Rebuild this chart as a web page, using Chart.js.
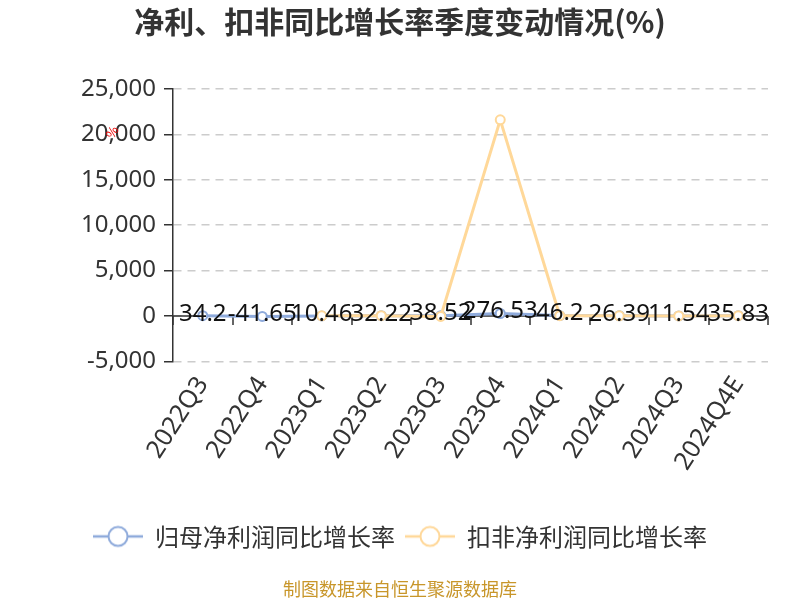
<!DOCTYPE html>
<html>
<head>
<meta charset="utf-8">
<script src="https://cdn.jsdelivr.net/npm/chart.js@4"></script>
<style>
  html, body { margin: 0; padding: 0; background: #fff; }
  #wrap { width: 800px; height: 600px; }
</style>
</head>
<body>
<div id="wrap"><canvas id="myChart" width="800" height="600"></canvas></div>
<script>
// Data
const quarters = ['2022Q3', '2022Q4', '2023Q1', '2023Q2', '2023Q3', '2023Q4', '2024Q1', '2024Q2', '2024Q3', '2024Q4E'];
const netProfitGrowth = [34.2, -41.65, 10.46, 32.22, 38.52, 276.53, 46.2, 26.39, 11.54, 35.83];
const deductedGrowth = [null, null, 18.3, 30.5, -52.7, 21600, 40.1, 24.8, 10.9, 35.0];
const seriesNames = ['归母净利润同比增长率', '扣非净利润同比增长率'];
const yTicks = [-5000, 0, 5000, 10000, 15000, 20000, 25000];

const FONT = '"Noto Sans CJK SC", "Noto Sans", sans-serif';
const NUM_FONT = '"Noto Sans", "Noto Sans CJK SC", sans-serif';
const BLUE = '#8eaadb';
const YELLOW = '#ffd899';

// legend symbol: short line with hollow circle
const makeSymbol = (color) => {
    const c = document.createElement('canvas');
    c.width = 50;
    c.height = 24;
    const g = c.getContext('2d');
    g.strokeStyle = color;
    g.lineWidth = 2.5;
    g.beginPath();
    g.moveTo(0, 12);
    g.lineTo(50, 12);
    g.stroke();
    g.beginPath();
    g.arc(25, 12, 9.5, 0, Math.PI * 2);
    g.fillStyle = '#fff';
    g.fill();
    g.lineWidth = 2;
    g.stroke();
    return c;
};

// zero axis line with category boundary ticks, drawn under the lines
const zeroAxis = {
    id: 'zeroAxis',
    beforeDatasetsDraw(chart) {
        const {ctx, scales: {x, y}} = chart;
        const y0 = y.getPixelForValue(0);
        const step = x.getPixelForValue(1) - x.getPixelForValue(0);
        ctx.save();
        ctx.strokeStyle = '#333';
        ctx.lineWidth = 1.5;
        ctx.beginPath();
        ctx.moveTo(x.left, y0);
        ctx.lineTo(x.right, y0);
        for (let i = 0; i <= quarters.length; i++) {
            const px = Math.round(x.getPixelForValue(0) - step / 2 + i * step);
            ctx.moveTo(px, y0);
            ctx.lineTo(px, y0 + 9);
        }
        ctx.stroke();
        ctx.restore();
    }
};

// value labels of the first series, plus the small red axis name
const valueLabels = {
    id: 'valueLabels',
    afterDatasetsDraw(chart) {
        const {ctx} = chart;
        const meta = chart.getDatasetMeta(0);
        ctx.save();
        ctx.font = '24px ' + NUM_FONT;
        ctx.fillStyle = '#111';
        ctx.textAlign = 'center';
        ctx.textBaseline = 'middle';
        meta.data.forEach((pt, i) => {
            ctx.fillText(String(netProfitGrowth[i]), pt.x, pt.y - 2);
        });
        ctx.translate(112, 132);
        ctx.rotate(-Math.PI / 3);
        ctx.font = '13px ' + FONT;
        ctx.fillStyle = '#e00';
        ctx.fillText('%', 0, 0);
        ctx.restore();
    }
};

const ctx = document.getElementById('myChart').getContext('2d');

const data = {
    labels: quarters,
    datasets: [{
        label: seriesNames[0],
        data: netProfitGrowth,
        borderColor: BLUE,
        backgroundColor: '#fff',
        borderWidth: 3,
        pointRadius: 4.5,
        pointBorderWidth: 2,
        pointBackgroundColor: '#fff',
        order: 1,
    }, {
        label: seriesNames[1],
        data: deductedGrowth,
        borderColor: YELLOW,
        backgroundColor: '#fff',
        borderWidth: 3,
        pointRadius: 4.5,
        pointBorderWidth: 2,
        pointBackgroundColor: '#fff',
        order: 0,
    }],
};

const options = {
    responsive: false,
    animation: false,
    layout: { padding: 0 },
    plugins: {
        title: {
            display: true,
            text: '净利、扣非同比增长率季度变动情况(%)',
            color: '#333',
            font: { family: FONT, size: 30, weight: 'bold' },
            padding: { top: 4, bottom: 49 },
        },
        subtitle: {
            display: true,
            position: 'bottom',
            text: '制图数据来自恒生聚源数据库',
            color: '#c8962a',
            font: { family: FONT, size: 18 },
            padding: { top: 20, bottom: 0 },
        },
        legend: {
            position: 'bottom',
            labels: {
                color: '#333',
                font: { family: FONT, size: 24 },
                usePointStyle: true,
                pointStyleWidth: 50,
                padding: 10,
                generateLabels: () => [
                    { text: seriesNames[0], pointStyle: makeSymbol(BLUE), fontColor: '#333', datasetIndex: 0, lineWidth: 0, strokeStyle: BLUE, fillStyle: '#fff' },
                    { text: seriesNames[1], pointStyle: makeSymbol(YELLOW), fontColor: '#333', datasetIndex: 1, lineWidth: 0, strokeStyle: YELLOW, fillStyle: '#fff' },
                ],
            },
        },
        tooltip: { enabled: false },
    },
    scales: {
        x: {
            offset: true,
            grid: { display: false },
            border: { display: false },
            ticks: {
                color: '#333',
                font: { family: NUM_FONT, size: 25 },
                minRotation: 57,
                maxRotation: 57,
                padding: 2,
                autoSkip: false,
            },
            afterFit: (scale) => { scale.height = 153; },
        },
        y: {
            min: -5000,
            max: 25000,
            afterBuildTicks: (scale) => { scale.ticks = yTicks.map(v => ({ value: v })); },
            grid: {
                color: '#cccccc',
                lineWidth: 1.5,
                tickColor: '#333',
                tickLength: 9,
                tickWidth: 1.5,
            },
            border: { display: true, color: '#333', width: 1.5, dash: [8, 6] },
            ticks: {
                color: '#333',
                font: { family: NUM_FONT, size: 24 },
                padding: 8,
            },
            afterFit: (scale) => { scale.width = 173; },
        },
        // empty right strip that keeps the plot off the right edge
        yRight: {
            position: 'right',
            min: 0,
            max: 1,
            grid: { display: false },
            border: { display: false },
            ticks: { display: false },
            afterFit: (scale) => { scale.width = 32; },
        },
    },
};

const myChart = new Chart(ctx, {
    type: 'line',
    data: data,
    options: options,
    plugins: [zeroAxis, valueLabels],
});
</script>
</body>
</html>
